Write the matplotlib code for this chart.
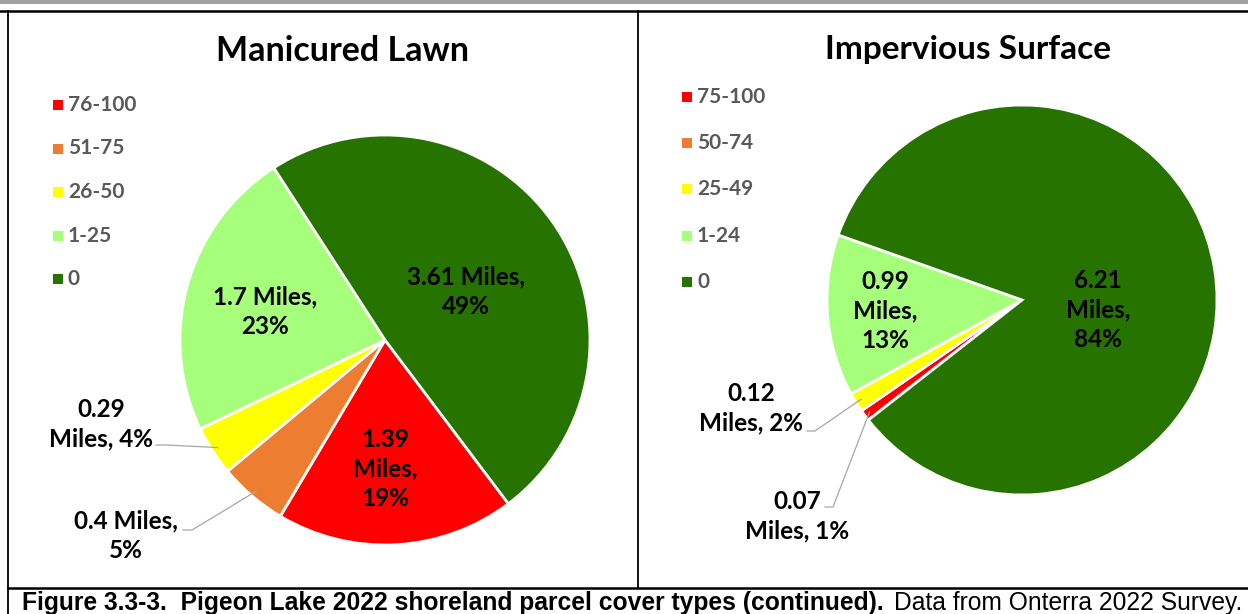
import matplotlib
matplotlib.use("Agg")
import matplotlib.pyplot as plt
from matplotlib.patches import Rectangle
import numpy as np

W, H = 1248, 614

lawn_title = "Manicured Lawn"
lawn_classes = ["76-100", "51-75", "26-50", "1-25", "0"]
lawn_miles = [1.39, 0.4, 0.29, 1.7, 3.61]

imperv_title = "Impervious Surface"
imperv_classes = ["75-100", "50-74", "25-49", "1-24", "0"]
imperv_miles = [0.07, 0.0, 0.12, 0.99, 6.21]

colors = ["#FF0000", "#ED7D31", "#FFFF00", "#A5FF7A", "#267300"]

caption_bold = "Figure 3.3-3.  Pigeon Lake 2022 shoreland parcel cover types (continued)."
caption_rest = "Data from Onterra 2022 Survey."

LABEL_FONT = ["Lato", "DejaVu Sans"]
CAPTION_FONT = ["Liberation Sans Narrow", "Liberation Sans", "DejaVu Sans"]

# label layout per slice: (x px, y px, wrap style, leader knee points or None)
lawn_layout = [
    (385, 469, "b", None),
    (126, 536, "a", [(183, 530), (192, 530)]),
    (101, 424, "c", [(156, 445), (166, 445)]),
    (265, 312, "a", None),
    (466, 292, "a", None),
]
imperv_layout = [
    (797, 516, "c", [(825, 507), (833, 507)]),
    None,
    (751, 408, "c", [(807, 431), (815, 431)]),
    (885, 311, "b", None),
    (1098, 310, "b", None),
]


def fmt_label(v, pct, style):
    if style == "a":
        return f"{v:g} Miles,\n{pct}%"
    if style == "b":
        return f"{v:g}\nMiles,\n{pct}%"
    return f"{v:g}\nMiles, {pct}%"


fig = plt.figure(figsize=(W / 100, H / 100), dpi=100)
bg = fig.add_axes([0, 0, 1, 1])
bg.set_xlim(0, W)
bg.set_ylim(H, 0)
bg.axis("off")
bg.set_zorder(3)

# frame lines
bg.add_patch(Rectangle((0, 0), W, 4, color="#A0A0A0", lw=0))
bg.plot([0, W], [11, 11], color="black", lw=1.8)
bg.plot([8, 8], [11, H], color="black", lw=1.3)
bg.plot([638, 638], [11, 588], color="black", lw=1.3)
bg.plot([8, W], [588, 588], color="black", lw=1.8)


def draw_panel(title, title_xy, title_size, classes, values, cx, cy, r,
               first_angle, layout, legend_x, legend_y, legend_step):
    ax = fig.add_axes([(cx - r) / W, (H - cy - r) / H, 2 * r / W, 2 * r / H])
    wedges, _ = ax.pie(values, colors=colors, startangle=90 - first_angle,
                       counterclock=False, radius=1,
                       wedgeprops=dict(edgecolor="white", linewidth=2))
    ax.set_xlim(-1, 1)
    ax.set_ylim(-1, 1)
    ax.axis("off")

    total = sum(values)
    for w, v, lay in zip(wedges, values, layout):
        if lay is None or v == 0:
            continue
        x, y, style, knee = lay
        pct = int(round(100 * v / total))
        bg.text(x, y, fmt_label(v, pct, style), ha="center", va="center",
                fontsize=17.5, fontweight="bold", family=LABEL_FONT,
                linespacing=1.36, color="black")
        if knee is not None:
            mid = np.deg2rad((w.theta1 + w.theta2) / 2)
            ex = cx + 0.97 * r * np.cos(mid)
            ey = cy - 0.97 * r * np.sin(mid)
            xs = [p[0] for p in knee] + [ex]
            ys = [p[1] for p in knee] + [ey]
            bg.plot(xs, ys, color="#A6A6A6", lw=0.9)

    bg.text(title_xy[0], title_xy[1], title, ha="center", va="center",
            fontsize=title_size, fontweight="bold", family=LABEL_FONT,
            color="black")

    for i, (c, name) in enumerate(zip(colors, classes)):
        y = legend_y + i * legend_step
        bg.add_patch(Rectangle((legend_x, y - 5), 10, 10, color=c, lw=0))
        bg.text(legend_x + 15, y, name, ha="left", va="center",
                fontsize=15, fontweight="bold", family=LABEL_FONT,
                color="#595959")


draw_panel(lawn_title, (343, 51), 24.5, lawn_classes, lawn_miles,
           385, 340, 205, 143, lawn_layout, 53, 105, 43.5)
draw_panel(imperv_title, (968, 50), 24, imperv_classes, imperv_miles,
           1022, 300, 195, 232, imperv_layout, 682, 97, 46.2)

# caption: bold part followed by regular part
cap = bg.text(22, 610, caption_bold, ha="left", va="baseline",
              fontsize=17.7, fontweight="bold", family=CAPTION_FONT)
fig.canvas.draw()
bb = cap.get_window_extent()
x_end = bg.transData.inverted().transform((bb.x1, bb.y0))[0]
bg.text(x_end + 10, 610, caption_rest, ha="left", va="baseline",
        fontsize=17.7, family=CAPTION_FONT)

fig.savefig("out.png", dpi=100)
